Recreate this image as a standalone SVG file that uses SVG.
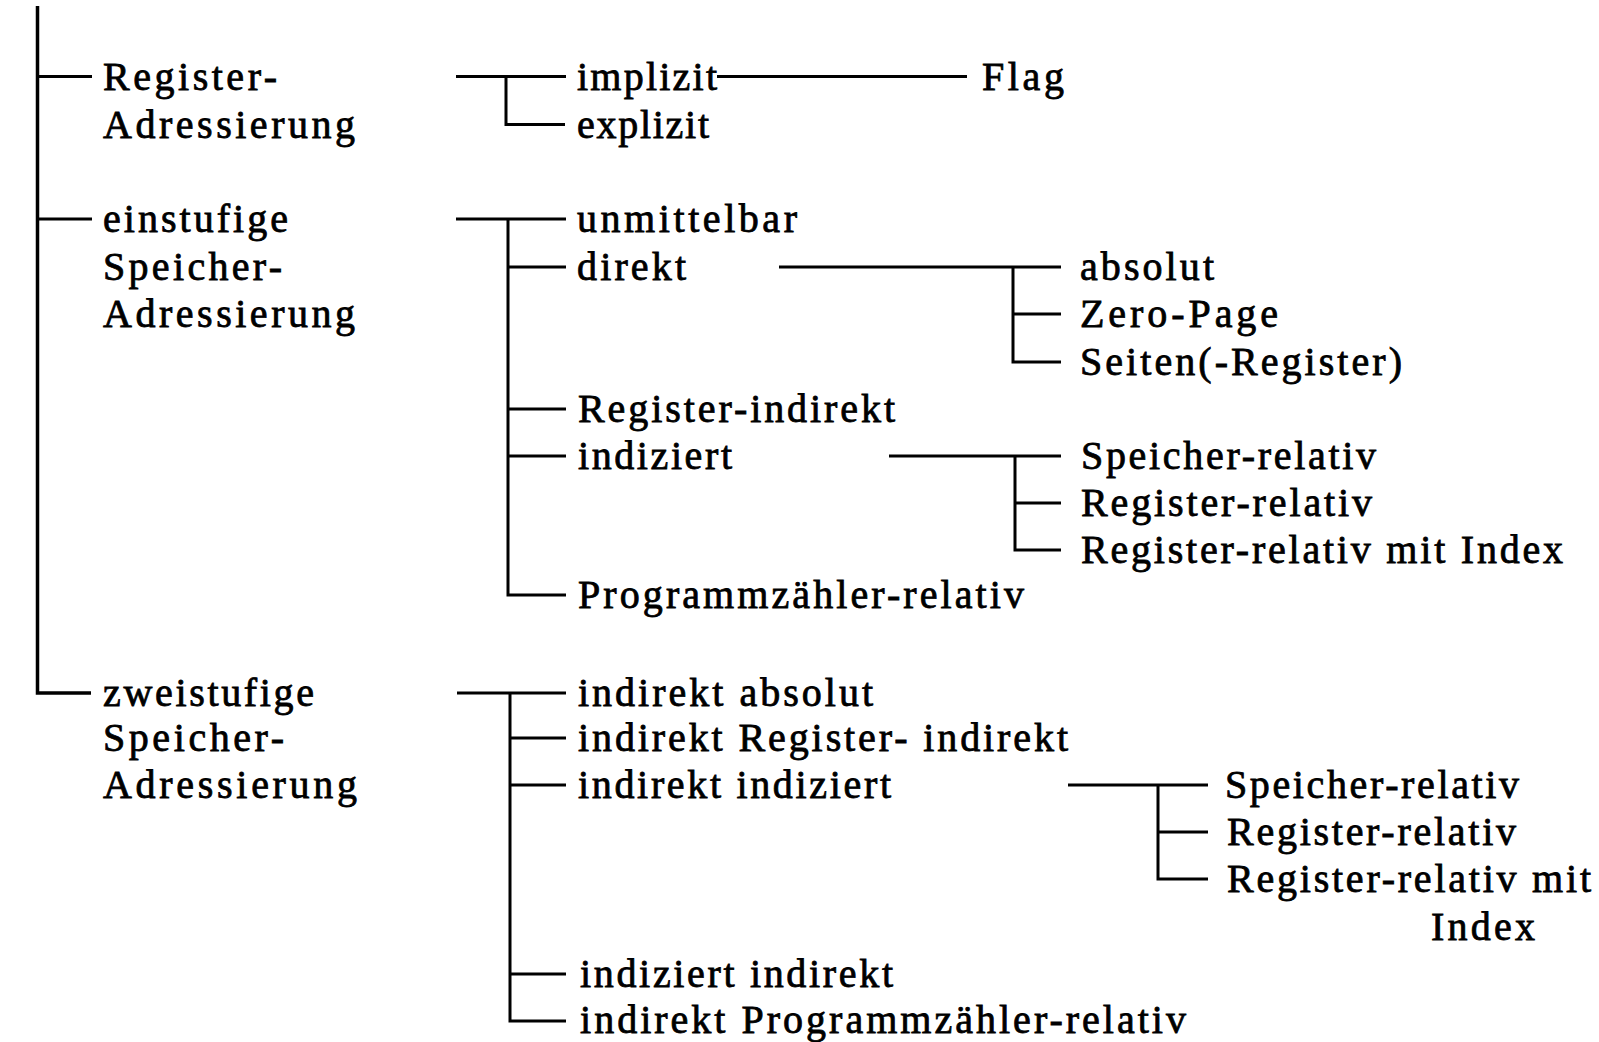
<svg xmlns="http://www.w3.org/2000/svg" width="1599" height="1042" viewBox="0 0 1599 1042">
<style>
  .t { font-family: "Liberation Serif", "Times New Roman", serif; font-size: 40px; fill: #000; stroke: #000; stroke-width: 0.8px; }
  .c { stroke: #000; stroke-width: 3; fill: none; stroke-linecap: butt; stroke-linejoin: miter; }
  .trunk { stroke-width: 3.5; }
</style>
<rect width="1599" height="1042" fill="#fff"/>
<g id="connectors">
  <path class="c trunk" d="M37.5,6 V693 H91"/>
  <path class="c" d="M37.5,76.5 H92"/>
  <path class="c" d="M37.5,219 H92"/>
  <path class="c" d="M456,76.5 H566"/>
  <path class="c" d="M506,76.5 V124.5 H565"/>
  <path class="c" d="M717,76.5 H967"/>
  <path class="c" d="M456,219 H566"/>
  <path class="c" d="M508,219 V595 H566"/>
  <path class="c" d="M508,267 H566"/>
  <path class="c" d="M508,409 H566"/>
  <path class="c" d="M508,456 H566"/>
  <path class="c" d="M779,267 H1061"/>
  <path class="c" d="M1013,267 V362 H1061"/>
  <path class="c" d="M1013,314 H1061"/>
  <path class="c" d="M889,456 H1061"/>
  <path class="c" d="M1015,456 V550 H1061"/>
  <path class="c" d="M1015,503 H1061"/>
  <path class="c" d="M457,693 H566"/>
  <path class="c" d="M510,693 V1021 H566"/>
  <path class="c" d="M510,738 H566"/>
  <path class="c" d="M510,785 H566"/>
  <path class="c" d="M510,974 H566"/>
  <path class="c" d="M1068,785 H1208"/>
  <path class="c" d="M1158,785 V879 H1208"/>
  <path class="c" d="M1158,832 H1208"/>
</g>
<g id="node-register-adressierung">
  <text class="t" x="103" y="90" textLength="174" lengthAdjust="spacing">Register-</text>
  <text class="t" x="103" y="138" textLength="252" lengthAdjust="spacing">Adressierung</text>
</g>
<g id="node-einstufige">
  <text class="t" x="103" y="232" textLength="185" lengthAdjust="spacing">einstufige</text>
  <text class="t" x="103" y="280" textLength="179" lengthAdjust="spacing">Speicher-</text>
  <text class="t" x="103" y="327" textLength="252" lengthAdjust="spacing">Adressierung</text>
</g>
<g id="node-zweistufige">
  <text class="t" x="103" y="706" textLength="211" lengthAdjust="spacing">zweistufige</text>
  <text class="t" x="103" y="751" textLength="181" lengthAdjust="spacing">Speicher-</text>
  <text class="t" x="103" y="798" textLength="254" lengthAdjust="spacing">Adressierung</text>
</g>
<g id="node-implizit"><text class="t" x="577" y="90" textLength="140" lengthAdjust="spacing">implizit</text></g>
<g id="node-flag"><text class="t" x="982" y="90" textLength="82" lengthAdjust="spacing">Flag</text></g>
<g id="node-explizit"><text class="t" x="577" y="138" textLength="132" lengthAdjust="spacing">explizit</text></g>
<g id="node-unmittelbar"><text class="t" x="577" y="232" textLength="220" lengthAdjust="spacing">unmittelbar</text></g>
<g id="node-direkt"><text class="t" x="577" y="280" textLength="109" lengthAdjust="spacing">direkt</text></g>
<g id="node-absolut"><text class="t" x="1080" y="280" textLength="134" lengthAdjust="spacing">absolut</text></g>
<g id="node-zero-page"><text class="t" x="1080" y="327" textLength="198" lengthAdjust="spacing">Zero-Page</text></g>
<g id="node-seiten-register"><text class="t" x="1080" y="375" textLength="322" lengthAdjust="spacing">Seiten(-Register)</text></g>
<g id="node-register-indirekt"><text class="t" x="578" y="422" textLength="317" lengthAdjust="spacing">Register-indirekt</text></g>
<g id="node-indiziert"><text class="t" x="578" y="469" textLength="154" lengthAdjust="spacing">indiziert</text></g>
<g id="node-speicher-relativ-1"><text class="t" x="1081" y="469" textLength="295" lengthAdjust="spacing">Speicher-relativ</text></g>
<g id="node-register-relativ-1"><text class="t" x="1081" y="516" textLength="291" lengthAdjust="spacing">Register-relativ</text></g>
<g id="node-register-relativ-index-1"><text class="t" x="1081" y="563" textLength="482" lengthAdjust="spacing">Register-relativ mit Index</text></g>
<g id="node-programmzaehler-relativ"><text class="t" x="578" y="608" textLength="446" lengthAdjust="spacing">Programmzähler-relativ</text></g>
<g id="node-indirekt-absolut"><text class="t" x="578" y="706" textLength="295" lengthAdjust="spacing">indirekt absolut</text></g>
<g id="node-indirekt-register-indirekt"><text class="t" x="578" y="751" textLength="490" lengthAdjust="spacing">indirekt Register- indirekt</text></g>
<g id="node-indirekt-indiziert"><text class="t" x="578" y="798" textLength="313" lengthAdjust="spacing">indirekt indiziert</text></g>
<g id="node-speicher-relativ-2"><text class="t" x="1225" y="798" textLength="294" lengthAdjust="spacing">Speicher-relativ</text></g>
<g id="node-register-relativ-2"><text class="t" x="1227" y="845" textLength="289" lengthAdjust="spacing">Register-relativ</text></g>
<g id="node-register-relativ-index-2">
  <text class="t" x="1227" y="892" textLength="364" lengthAdjust="spacing">Register-relativ mit</text>
  <text class="t" x="1431" y="940" textLength="104" lengthAdjust="spacing">Index</text>
</g>
<g id="node-indiziert-indirekt"><text class="t" x="580" y="987" textLength="313" lengthAdjust="spacing">indiziert indirekt</text></g>
<g id="node-indirekt-programmzaehler-relativ"><text class="t" x="580" y="1033" textLength="606" lengthAdjust="spacing">indirekt Programmzähler-relativ</text></g>
</svg>
